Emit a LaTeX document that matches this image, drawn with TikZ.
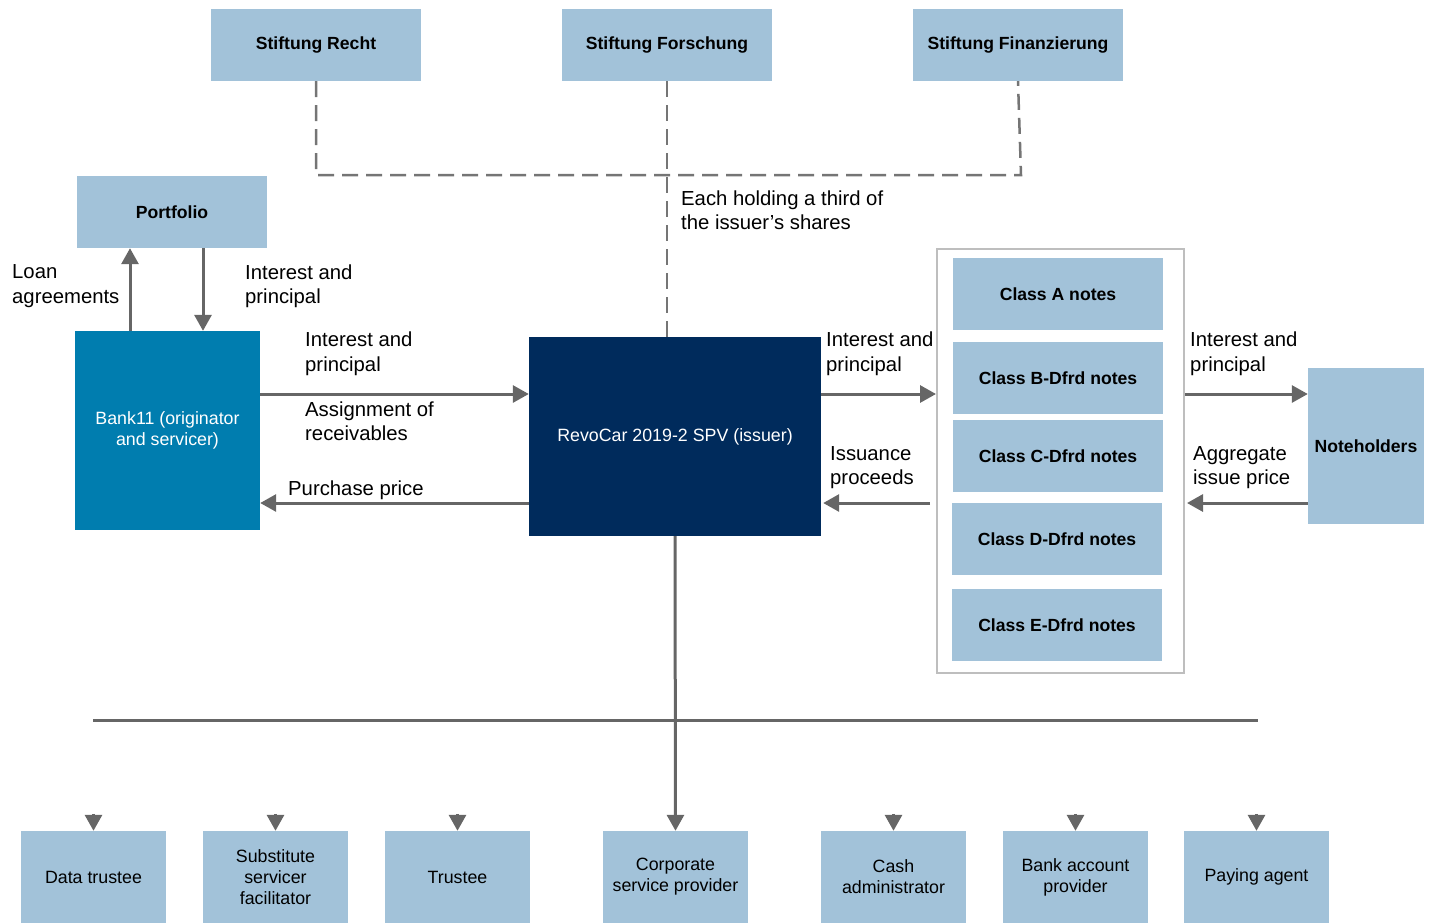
\documentclass[tikz,border=0pt]{standalone}
\usepackage{fontspec}
\setmainfont{Liberation Sans}
\usetikzlibrary{arrows.meta,positioning,calc}

\definecolor{boxblue}{RGB}{162,194,217}
\definecolor{bankblue}{RGB}{0,125,175}
\definecolor{spvblue}{RGB}{0,43,92}
\definecolor{arrowgray}{RGB}{102,102,102}
\definecolor{framegray}{RGB}{190,190,190}

\tikzset{
	box/.style={rectangle, fill=boxblue, inner sep=0pt, align=center,
		minimum width=210pt, minimum height=72pt,
		font=\bfseries\fontsize{17.6}{21}\selectfont},
	agent/.style={rectangle, fill=boxblue, inner sep=0pt, align=center,
		minimum width=145pt, minimum height=92pt,
		font=\fontsize{17.8}{21}\selectfont},
	lbl/.style={anchor=west, inner sep=0pt, align=left,
		font=\fontsize{20.3}{24.5}\selectfont},
	flow/.style={draw=arrowgray, line width=3pt,
		-{Triangle[length=16pt, width=17pt]}},
	bus/.style={draw=arrowgray, line width=3pt},
	share/.style={draw=arrowgray!90, line width=2.5pt, dash pattern=on 16pt off 8pt}
}

\begin{document}
\begin{tikzpicture}[x=1pt, y=-1pt]
	\useasboundingbox (0,0) rectangle (1430,922);

	% shareholders
	\node[box] (recht) at (316,45) {Stiftung Recht};
	\node[box] (forsch) at (667,45) {Stiftung Forschung};
	\node[box] (finanz) at (1018,45) {Stiftung Finanzierung};

	% originator side
	\node[box, minimum width=190pt] (portfolio) at (172,212) {Portfolio};
	\node[rectangle, fill=bankblue, text=white, inner sep=0pt, align=center,
		minimum width=185pt, minimum height=199pt,
		font=\fontsize{17.8}{21.5}\selectfont] (bank) at (167.5,430.5) {Bank11 (originator\\and servicer)};
	\node[rectangle, fill=spvblue, text=white, inner sep=0pt,
		minimum width=292pt, minimum height=199pt,
		font=\fontsize{17.8}{21}\selectfont] (spv) at (675,436.5) {RevoCar 2019-2 SPV (issuer)};

	% notes
	\node[draw=framegray, line width=2pt, minimum width=247pt, minimum height=424pt] (notes) at (1060.5,461) {};
	\node[box] (clA) at (1058,294) {Class A notes};
	\node[box] (clB) at (1058,378) {Class B-Dfrd notes};
	\node[box] (clC) at (1058,456) {Class C-Dfrd notes};
	\node[box] (clD) at (1057,539) {Class D-Dfrd notes};
	\node[box] (clE) at (1057,625) {Class E-Dfrd notes};
	\node[box, minimum width=116pt, minimum height=156pt] (holders) at (1366,446) {Noteholders};

	% service parties
	\node[agent] (dt) at (93.5,877) {Data trustee};
	\node[agent] (ssf) at (275.5,877) {Substitute\\servicer\\facilitator};
	\node[agent] (tr) at (457.5,877) {Trustee};
	\node[agent] (csp) at (675.5,877) {Corporate\\service provider};
	\node[agent] (ca) at (893.5,877) {Cash\\administrator};
	\node[agent] (bap) at (1075.5,877) {Bank account\\provider};
	\node[agent] (pa) at (1256.5,877) {Paying agent};

	\coordinate (upper) at (0,394);
	\coordinate (lower) at (0,503);
	\coordinate (joint) at (316,175);
	\coordinate (jointR) at (1021,175);
	\coordinate (busL) at (93,720);
	\coordinate (busR) at (1258,720);

	% ownership
	\draw[share] (recht.south) -- (joint) -- (jointR) -- (finanz.south);
	\draw[share] (forsch.south) -- (spv.north -| forsch.south);
	\node[lbl] (holding) at (681,210) {Each holding a third of\\the issuer’s shares};

	% portfolio
	\draw[flow] (bank.north -| 130,0) -- (portfolio.south -| 130,0);
	\draw[flow] (portfolio.south -| 203,0) -- (bank.north -| 203,0);
	\node[lbl] (loan) at (12,286) {Loan\\agreements};
	\node[lbl] (ip1) at (245,286) {Interest and\\principal};

	% cash flows
	\draw[flow] (bank.east |- upper) -- (spv.west |- upper);
	\draw[flow] (spv.west |- lower) -- (bank.east |- lower);
	\node[lbl] (ip2) at (305,353.5) {Interest and\\principal};
	\node[lbl] (assign) at (305,421) {Assignment of\\receivables};
	\node[lbl] (pp) at (288,490) {Purchase price};

	\draw[flow] (spv.east |- upper) -- (notes.west |- upper);
	\draw[flow] ([xshift=-6pt]notes.west |- lower) -- ([xshift=2pt]spv.east |- lower);
	\node[lbl] (ip3) at (826,353.5) {Interest and\\principal};
	\node[lbl] (iss) at (830,467.5) {Issuance\\proceeds};

	\draw[flow] (notes.east |- upper) -- (holders.west |- upper);
	\draw[flow] (holders.west |- lower) -- ([xshift=2pt]notes.east |- lower);
	\node[lbl] (ip4) at (1190,353.5) {Interest and\\principal};
	\node[lbl] (agg) at (1193,467.5) {Aggregate\\issue price};

	% services
	\draw[bus] (busL) -- (busR);
	\draw[flow] (spv.south) -- (csp.north);
	\foreach \n in {dt,ssf,tr,ca,bap,pa}
		\draw[flow] ([yshift=17pt]\n.north) -- (\n.north);
\end{tikzpicture}
\end{document}
